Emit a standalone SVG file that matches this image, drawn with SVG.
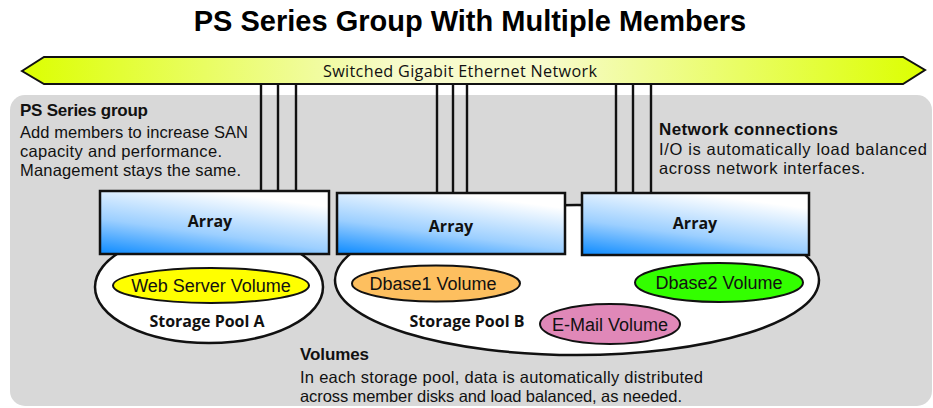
<svg xmlns="http://www.w3.org/2000/svg" width="933" height="408" viewBox="0 0 933 408">
<defs>
<linearGradient id="barGrad" x1="0" y1="0" x2="1" y2="0">
<stop offset="0" stop-color="#dcff00"/>
<stop offset="0.42" stop-color="#f7fbcc"/>
<stop offset="0.58" stop-color="#f7fbcc"/>
<stop offset="1" stop-color="#dcff00"/>
</linearGradient>
<linearGradient id="arrGrad" x1="0" y1="1" x2="0.5" y2="0">
<stop offset="0" stop-color="#0b8aff"/>
<stop offset="0.45" stop-color="#9ccfff"/>
<stop offset="1" stop-color="#ffffff"/>
</linearGradient>
<style>
.body{font-family:"Liberation Sans",Arial,sans-serif;font-size:16.5px;fill:#111}
.head{font-family:"Liberation Sans",Arial,sans-serif;font-size:17px;font-weight:bold;fill:#111}
.lbl{font-family:"Open Sans","Noto Sans",sans-serif;font-size:16px;font-weight:bold;fill:#111;text-anchor:middle}
.vol{font-family:"Liberation Sans",Arial,sans-serif;font-size:18px;fill:#111;text-anchor:middle}
.array{fill:url(#arrGrad);stroke:#111;stroke-width:2.5}
.pool{fill:#fff;stroke:#111;stroke-width:2.5}
.volume{stroke:#111;stroke-width:2}
.conn{stroke:#111;stroke-width:2.4;fill:none}
</style>
</defs>
<rect width="933" height="408" fill="#fff"/>
<text x="470" y="31" text-anchor="middle" font-family="'Liberation Sans',Arial,sans-serif" font-size="29" font-weight="bold" fill="#000">PS Series Group With Multiple Members</text>
<rect id="group-bg" x="10" y="95" width="922" height="311" rx="15" fill="#d8d8d8"/>
<g id="network">
<polygon points="22,71 44,57 903,57 925,70 903,84 44,84" fill="url(#barGrad)" stroke="#111" stroke-width="2"/>
<text x="323" y="77" font-family="'Open Sans','Noto Sans',sans-serif" font-size="16.2" fill="#111" textLength="274" lengthAdjust="spacing">Switched Gigabit Ethernet Network</text>
</g>
<g id="connectors">
<line class="conn" x1="261" y1="84" x2="261" y2="191"/>
<line class="conn" x1="278" y1="84" x2="278" y2="191"/>
<line class="conn" x1="296" y1="84" x2="296" y2="191"/>
<line class="conn" x1="437" y1="84" x2="437" y2="193"/>
<line class="conn" x1="453" y1="84" x2="453" y2="193"/>
<line class="conn" x1="467" y1="84" x2="467" y2="193"/>
<line class="conn" x1="616" y1="84" x2="616" y2="193"/>
<line class="conn" x1="633" y1="84" x2="633" y2="193"/>
<line class="conn" x1="651" y1="84" x2="651" y2="193"/>
</g>
<g id="pool-a">
<ellipse class="pool" cx="209" cy="287" rx="114" ry="56"/>
<text class="lbl" x="207" y="327">Storage Pool A</text>
</g>
<g id="pool-b">
<ellipse class="pool" cx="577" cy="280" rx="242" ry="75"/>
<text class="lbl" x="467" y="327">Storage Pool B</text>
</g>
<g id="array-1">
<rect class="array" x="100" y="191" width="229" height="63"/>
<text class="lbl" x="210" y="227">Array</text>
</g>
<g id="array-2">
<rect class="array" x="337" y="193" width="228" height="61"/>
<text class="lbl" x="451" y="232">Array</text>
</g>
<g id="array-3">
<rect class="array" x="582" y="193" width="227" height="62"/>
<text class="lbl" x="695" y="229">Array</text>
</g>
<g id="vol-web">
<ellipse class="volume" cx="211" cy="285.5" rx="98" ry="17.5" fill="#ffff00"/>
<text class="vol" x="211" y="292">Web Server Volume</text>
</g>
<g id="vol-dbase1">
<ellipse class="volume" cx="436" cy="283.5" rx="84" ry="18" fill="#fdbf5f"/>
<text class="vol" x="433" y="290">Dbase1 Volume</text>
</g>
<g id="vol-dbase2">
<ellipse class="volume" cx="719" cy="282.5" rx="84" ry="19.5" fill="#33ff00"/>
<text class="vol" x="719" y="289">Dbase2 Volume</text>
</g>
<g id="vol-email">
<ellipse class="volume" cx="610" cy="324" rx="70" ry="20" fill="#e088b8"/>
<text class="vol" x="610" y="331">E-Mail Volume</text>
</g>
<g id="note-group">
<text class="head" x="20" y="116" textLength="128" lengthAdjust="spacing">PS Series group</text>
<text class="body" x="20" y="138" textLength="228" lengthAdjust="spacing">Add members to increase SAN</text>
<text class="body" x="20" y="157" textLength="202" lengthAdjust="spacing">capacity and performance.</text>
<text class="body" x="20" y="176" textLength="221" lengthAdjust="spacing">Management stays the same.</text>
</g>
<g id="note-network">
<text class="head" x="659" y="135" textLength="179" lengthAdjust="spacing">Network connections</text>
<text class="body" x="659" y="155" textLength="268" lengthAdjust="spacing">I/O is automatically load balanced</text>
<text class="body" x="659" y="174" textLength="206" lengthAdjust="spacing">across network interfaces.</text>
</g>
<g id="note-volumes">
<text class="head" x="300" y="360" textLength="69" lengthAdjust="spacing">Volumes</text>
<text class="body" x="300" y="383" textLength="403" lengthAdjust="spacing">In each storage pool, data is automatically distributed</text>
<text class="body" x="300" y="402" textLength="382" lengthAdjust="spacing">across member disks and load balanced, as needed.</text>
</g>
</svg>
